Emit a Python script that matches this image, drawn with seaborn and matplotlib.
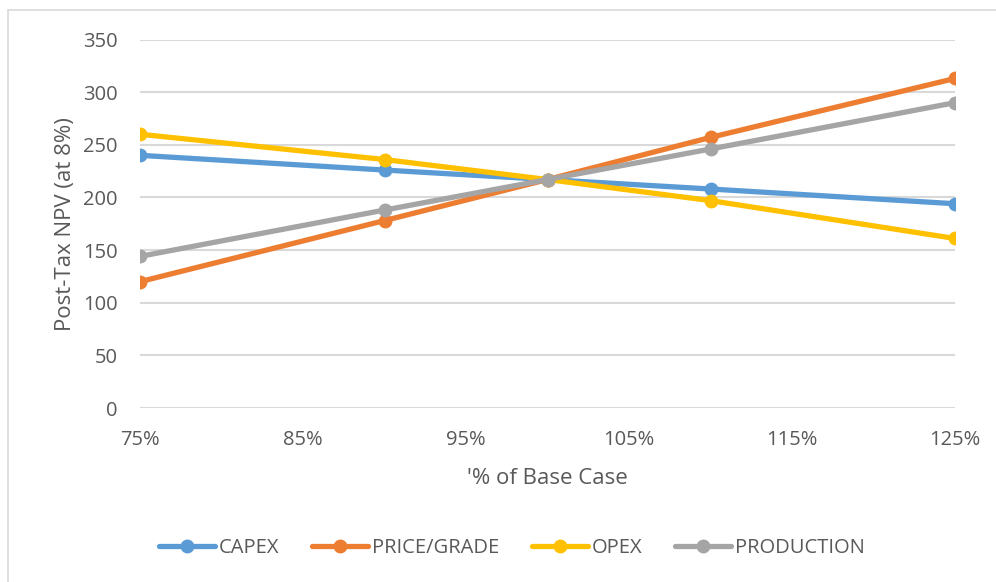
import matplotlib
matplotlib.use("Agg")
import matplotlib.pyplot as plt
from matplotlib.lines import Line2D
import seaborn as sns
import pandas as pd

# Sensitivity of post-tax NPV to each driver
pct_of_base = [75, 90, 100, 110, 125]
capex = [240, 226, 217, 208, 194]
price_grade = [120, 178, 217, 257, 313]
opex = [260, 236, 217, 197, 161]
production = [144, 188, 217, 246, 290]

series_names = ["CAPEX", "PRICE/GRADE", "OPEX", "PRODUCTION"]
series_values = [capex, price_grade, opex, production]
colors = ["#5B9BD5", "#ED7D31", "#FFC000", "#A5A5A5"]

x_ticks = [75, 85, 95, 105, 115, 125]
y_ticks = [0, 50, 100, 150, 200, 250, 300, 350]

rows = []
for name, vals in zip(series_names, series_values):
    for x, v in zip(pct_of_base, vals):
        rows.append({"pct": x, "npv": v, "series": name})
df = pd.DataFrame(rows)

sns.set_theme(style="white")
plt.rcParams["font.family"] = ["Open Sans", "DejaVu Sans"]

text_color = "#595959"
fig = plt.figure(figsize=(9.96, 5.82), dpi=100)
ax = fig.add_axes([140 / 996, 1 - 408 / 582, (955 - 140) / 996, (408 - 39.5) / 582])

sns.lineplot(
    data=df, x="pct", y="npv", hue="series", hue_order=series_names,
    palette=colors, marker="o", markersize=10, markeredgewidth=0,
    linewidth=3.8, ax=ax, legend=False, zorder=3,
)

ax.set_xlim(75, 125)
ax.set_ylim(0, 350)
ax.set_xticks(x_ticks)
ax.set_xticklabels([f"{t}%" for t in x_ticks])
ax.set_yticks(y_ticks)
ax.grid(axis="y", color="#D9D9D9", linewidth=1.5, zorder=0)
ax.grid(axis="x", visible=False)
for s in ax.spines.values():
    s.set_visible(False)
ax.tick_params(axis="x", length=0, pad=16, labelsize=14.5, labelcolor=text_color)
ax.tick_params(axis="y", length=0, pad=16, labelsize=14.5, labelcolor=text_color)
ax.set_xlabel("'% of Base Case", fontsize=16, color=text_color, labelpad=13)
ax.set_ylabel("Post-Tax NPV (at 8%)", fontsize=16, color=text_color, labelpad=5)
ax.set_axisbelow(True)

handles = [
    Line2D([], [], color=c, linewidth=3.8, marker="o", markersize=10, markeredgewidth=0)
    for c in colors
]
fig.legend(
    handles, series_names, loc="center", bbox_to_anchor=(0.514, 0.058), ncol=4,
    frameon=False, fontsize=14.5, handlelength=2.8, handletextpad=0.2,
    columnspacing=1.6, labelcolor=text_color,
)

# chart-area border (top and left edges)
fig.add_artist(Line2D([8 / 996, 1], [1 - 10 / 582, 1 - 10 / 582], color="#D9D9D9",
                      linewidth=1.2, transform=fig.transFigure))
fig.add_artist(Line2D([8 / 996, 8 / 996], [0, 1 - 10 / 582], color="#D9D9D9",
                      linewidth=1.2, transform=fig.transFigure))

fig.savefig("out.png", dpi=100, facecolor="white")
